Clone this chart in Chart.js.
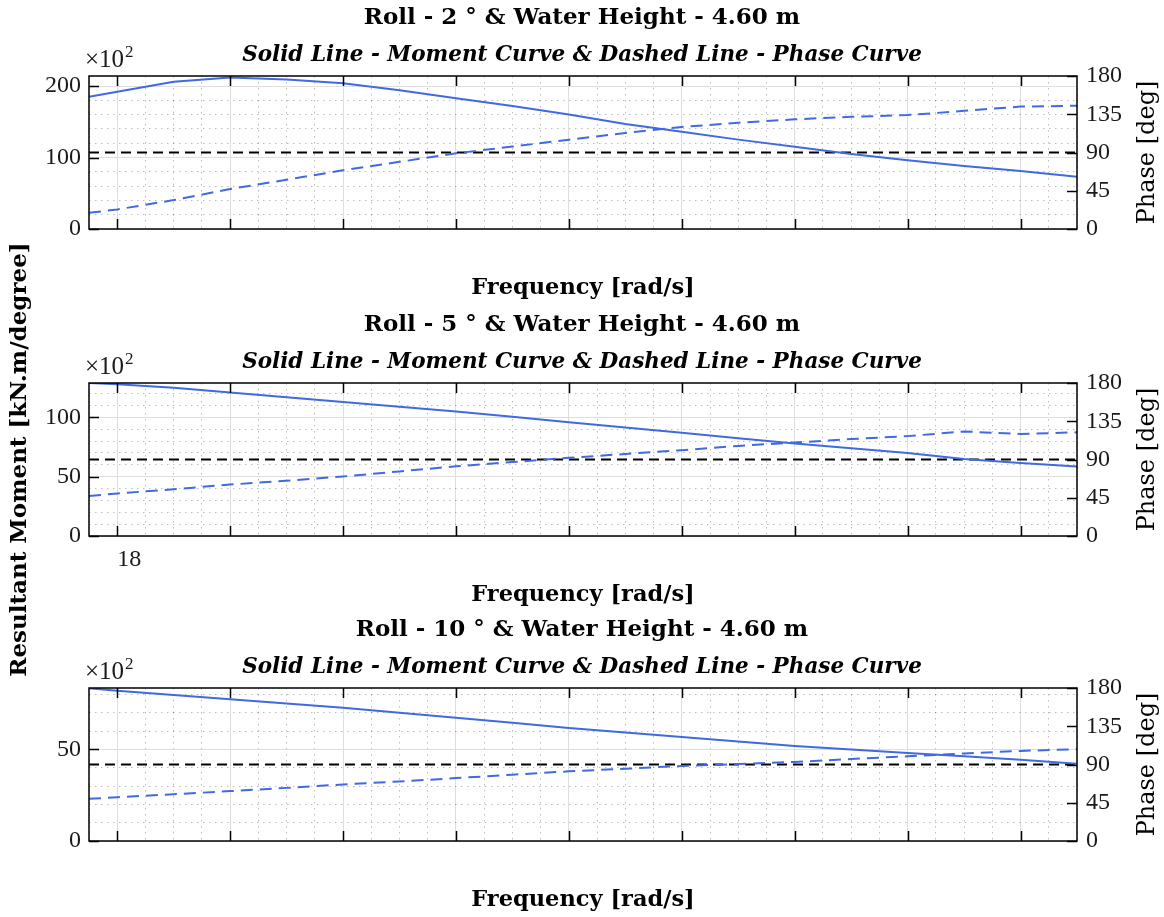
<!DOCTYPE html>
<html>
<head>
<meta charset="utf-8">
<title>Roll moment response</title>
<script src="https://cdn.jsdelivr.net/npm/chart.js@4.4.1/dist/chart.umd.min.js"></script>
<style>
  body { margin: 0; background: #fff; }
  #wrap { position: relative; width: 1164px; height: 917px; }
  #wrap canvas { position: absolute; left: 0; top: 0; }
</style>
</head>
<body>
<div id="wrap">
  <canvas id="roll2" width="1164" height="917"></canvas>
  <canvas id="roll5" width="1164" height="917"></canvas>
  <canvas id="roll10" width="1164" height="917"></canvas>
</div>
<script>
// frequency points shared by every run [rad/s]
var freq = [17.75, 18, 18.5, 19, 19.5, 20, 20.5, 21, 21.5, 22, 22.5, 23, 23.5, 24, 24.5, 25, 25.5, 26, 26.5];

// resultant moment [x10^2 kN.m/degree] and phase [deg] for each roll angle
var moment2 = [185, 192, 206, 212, 209, 204, 194, 183, 172, 160, 147, 136, 125, 115, 105, 96, 88, 81, 73];
var phase2 = [19, 23, 34, 47, 58, 69, 79, 89, 97, 105, 113, 120, 125, 129, 132, 134, 139, 144, 145];

var moment5 = [129, 128, 125, 121, 117, 113, 109, 105, 100.5, 96, 91.5, 87, 82.5, 78, 74, 70, 65, 61.5, 58.5];
var phase5 = [47, 50, 55, 60.5, 65, 70, 76, 82, 87, 92, 96.5, 101, 106, 110, 114, 117.5, 123, 120, 122];

var moment10 = [83.4, 82, 79.7, 77.4, 75, 72.7, 70, 67.2, 64.5, 61.7, 59.2, 56.8, 54.3, 51.9, 50, 48, 46.2, 44.4, 42.2];
var phase10 = [49.6, 51.5, 55, 58.7, 62.5, 66.5, 70, 74, 78, 82, 85, 88.3, 90.5, 93, 96.5, 99.6, 103, 106, 108];

var phaseRef = 90;
var waterHeight = "4.60";
var phaseTicks = [0, 45, 90, 135, 180];

var SERIF = "'Liberation Serif', 'Times New Roman', serif";
var DEJAVU = "'DejaVu Serif', serif";
var BLUE = "#4169e1";

function toXY(values) {
    return values.map(function (v, i) { return { x: freq[i], y: v }; });
}

// boxed axes with inward tick marks, the x10^2 multiplier and the right label
var axesFrame = {
    id: "axesFrame",
    afterDatasetsDraw: function (chart, args, opts) {
        var ctx = chart.ctx, a = chart.chartArea;
        var x = chart.scales.x, y = chart.scales.y, y2 = chart.scales.y2;
        ctx.save();
        ctx.strokeStyle = "#000";
        ctx.lineWidth = 1.5;
        ctx.beginPath();
        x.ticks.forEach(function (t) {
            if (t.value % 1 !== 0) return;
            var px = Math.round(x.getPixelForValue(t.value)) + 0.5;
            ctx.moveTo(px, a.bottom); ctx.lineTo(px, a.bottom - 10);
            ctx.moveTo(px, a.top); ctx.lineTo(px, a.top + 10);
        });
        y.ticks.forEach(function (t) {
            if (t.value % opts.major !== 0) return;
            var py = Math.round(y.getPixelForValue(t.value)) + 0.5;
            ctx.moveTo(a.left, py); ctx.lineTo(a.left + 10, py);
        });
        phaseTicks.forEach(function (v) {
            var py = Math.round(y2.getPixelForValue(v)) + 0.5;
            ctx.moveTo(a.right, py); ctx.lineTo(a.right - 10, py);
        });
        ctx.stroke();
        ctx.strokeRect(a.left, a.top, a.right - a.left, a.bottom - a.top);
        ctx.restore();
    },
    afterDraw: function (chart) {
        var ctx = chart.ctx, a = chart.chartArea;
        ctx.save();
        ctx.fillStyle = "#1a1a1a";
        ctx.textBaseline = "alphabetic";
        ctx.textAlign = "left";
        ctx.font = "25px " + SERIF;
        var base = "\u00d710";
        ctx.fillText(base, a.left - 4, a.top - 9);
        var w = ctx.measureText(base).width;
        ctx.font = "17px " + SERIF;
        ctx.fillText("2", a.left - 4 + w + 1, a.top - 19);

        ctx.fillStyle = "#000";
        ctx.font = "24px " + DEJAVU;
        ctx.translate(1148, (a.top + a.bottom) / 2);
        ctx.rotate(-Math.PI / 2);
        ctx.textAlign = "center";
        ctx.textBaseline = "middle";
        ctx.fillText("Phase [deg]", 0, 0);
        ctx.restore();
    }
};

function gridColor(major) {
    return function (c) {
        if (c.type !== "tick") return "#000";
        return Math.abs(c.tick.value % major) < 1e-9 ? "#dedede" : "rgba(0,0,0,0.26)";
    };
}
function gridDash(major) {
    return function (c) {
        if (c.type !== "tick") return [];
        return Math.abs(c.tick.value % major) < 1e-9 ? [] : [1.5, 4.5];
    };
}

function rollChart(id, roll, moment, phase, o) {
    return new Chart(document.getElementById(id), {
        type: "line",
        data: {
            datasets: [{
                label: "Moment",
                data: toXY(moment),
                yAxisID: "y",
                borderColor: BLUE,
                borderWidth: 2
            }, {
                label: "Phase",
                data: toXY(phase),
                yAxisID: "y2",
                borderColor: BLUE,
                borderWidth: 2,
                borderDash: [12, 7]
            }, {
                label: "90 deg",
                data: [{ x: freq[0], y: phaseRef }, { x: freq[freq.length - 1], y: phaseRef }],
                yAxisID: "y2",
                borderColor: "#000",
                borderWidth: 2,
                borderDash: [10, 6]
            }]
        },
        options: {
            responsive: false,
            animation: false,
            events: [],
            layout: { padding: { top: o.top, bottom: 917 - o.top - 305, left: 0, right: 0 } },
            elements: { point: { radius: 0 }, line: { tension: 0 } },
            plugins: {
                legend: { display: false },
                tooltip: { enabled: false },
                title: {
                    display: true,
                    text: "Roll - " + roll + " \u00b0 & Water Height - " + waterHeight + " m",
                    color: "#000",
                    font: { family: DEJAVU, size: 23, weight: "bold" },
                    padding: { top: 4.5, bottom: 0 }
                },
                subtitle: {
                    display: true,
                    text: "Solid Line - Moment Curve & Dashed Line - Phase Curve",
                    color: "#000",
                    font: { family: DEJAVU, size: 21.5, weight: "bold", style: "italic" },
                    padding: { top: 10, bottom: 8.1 }
                },
                axesFrame: { major: o.major }
            },
            scales: {
                x: {
                    type: "linear",
                    min: 17.75,
                    max: 26.5,
                    afterFit: function (s) { s.height = 76; },
                    border: { display: false, dash: gridDash(1) },
                    grid: { drawTicks: false, color: gridColor(1), lineWidth: 1 },
                    ticks: {
                        stepSize: 0.25,
                        autoSkip: false,
                        maxRotation: 0,
                        align: "start",
                        padding: 9,
                        color: "#1a1a1a",
                        font: { family: SERIF, size: 24 },
                        callback: function (v) { return o.xLabels.indexOf(v) >= 0 ? String(v) : ""; }
                    },
                    title: {
                        display: true,
                        text: "Frequency [rad/s]",
                        color: "#000",
                        font: { family: DEJAVU, size: 22.5, weight: "bold" },
                        padding: { top: 0, bottom: 3 }
                    }
                },
                y: {
                    position: "left",
                    min: 0,
                    max: o.max,
                    afterFit: function (s) { s.width = 89; },
                    border: { display: false, dash: gridDash(o.major) },
                    grid: { drawTicks: false, color: gridColor(o.major), lineWidth: 1 },
                    ticks: {
                        stepSize: o.minor,
                        autoSkip: false,
                        includeBounds: false,
                        padding: 8,
                        color: "#1a1a1a",
                        font: { family: SERIF, size: 24 },
                        callback: function (v) { return v % o.major === 0 ? v : ""; }
                    },
                    title: {
                        display: !!o.yTitle,
                        text: o.yTitle || "",
                        color: "#000",
                        font: { family: DEJAVU, size: 23, weight: "bold" },
                        padding: { top: 6, bottom: 0 }
                    }
                },
                y2: {
                    position: "right",
                    min: 0,
                    max: 180,
                    afterFit: function (s) { s.width = 87; },
                    border: { display: false },
                    grid: { display: false, drawTicks: false },
                    ticks: {
                        stepSize: 45,
                        autoSkip: false,
                        padding: 9,
                        color: "#1a1a1a",
                        font: { family: SERIF, size: 24 }
                    }
                }
            }
        },
        plugins: [axesFrame]
    });
}

rollChart("roll2", 2, moment2, phase2, { top: 0, max: 214, major: 100, minor: 20, xLabels: [] });
rollChart("roll5", 5, moment5, phase5, { top: 307, max: 129, major: 50, minor: 10, xLabels: [18],
    yTitle: "Resultant Moment [kN.m/degree]" });
rollChart("roll10", 10, moment10, phase10, { top: 612, max: 83.5, major: 50, minor: 10, xLabels: [] });
</script>
</body>
</html>
